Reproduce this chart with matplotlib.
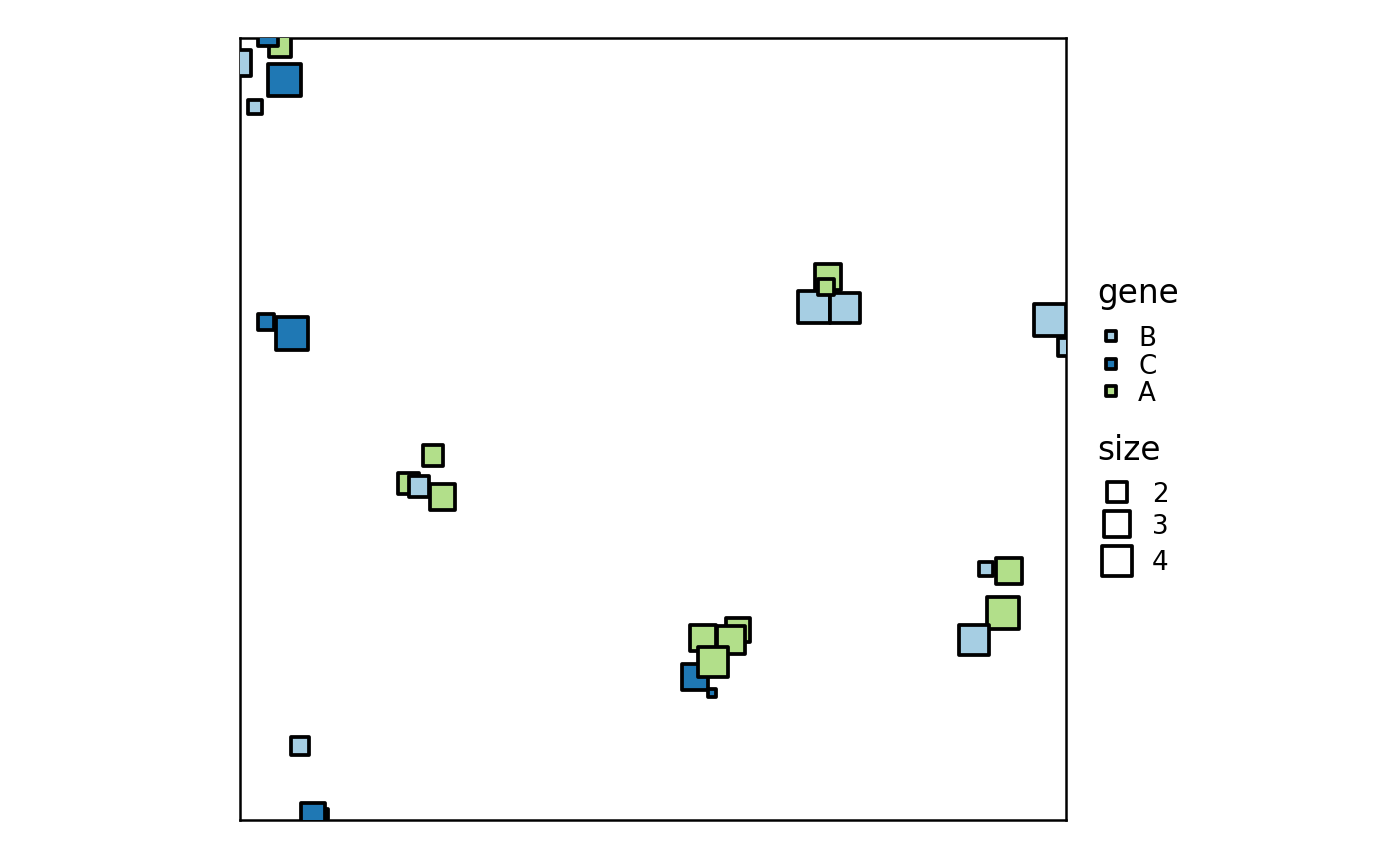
import numpy as np
import matplotlib
matplotlib.use("Agg")
import matplotlib.pyplot as plt

# ---- data ----
gene = ["A", "C", "C", "B", "B",
        "C", "C",
        "A", "B", "A", "A",
        "C", "C", "B",
        "A", "A", "A", "C", "A", "C",
        "A", "B", "B", "A",
        "B", "B", "B", "A", "A", "B"]
x = [4.84, 3.39, 5.39, -0.24, 1.82,
     3.15, 6.30,
     20.40, 21.67, 23.37, 24.52,
     10.00, 8.84, 7.26,
     60.29, 56.05, 59.44, 55.08, 57.26, 57.14,
     71.19, 69.49, 73.24, 70.94,
     98.06, 100.06, 90.31, 93.10, 92.37, 88.86]
y = [98.98, 100.26, 94.63, 96.80, 91.18,
     63.68, 62.21,
     43.03, 42.65, 46.61, 41.30,
     0.77, 0.70, 9.46,
     24.30, 23.27, 23.02, 18.29, 20.20, 16.24,
     69.44, 65.60, 65.47, 68.16,
     63.94, 60.49, 32.10, 31.84, 26.47, 23.02]
size = [2.35, 2.00, 4.48, 3.12, 1.13,
        1.39, 4.48,
        2.17, 2.00, 2.00, 2.91,
        0.69, 2.53, 1.68,
        2.53, 2.91, 3.33, 2.91, 4.00, 0.43,
        3.12, 4.48, 4.00, 1.39,
        4.24, 1.53, 1.13, 2.91, 4.24, 4.00]

gene_levels = ["B", "C", "A"]
gene_colors = {"B": "#A6CEE3", "C": "#1F78B4", "A": "#B2DF8A"}
size_breaks = [2, 3, 4]

DPI = 200
EDGE_LW = 1.35


def side_px(v):
    return 17.07 * np.sqrt(np.asarray(v, dtype=float)) - 3.64


def marker_area(v):
    return (side_px(v) * 72.0 / DPI) ** 2


fig = plt.figure(figsize=(7, 4.33), dpi=DPI)
W, H = 1400, 866
ax = fig.add_axes([240 / W, 46 / H, 826 / W, 782 / H])
ax.scatter(x, y, s=marker_area(size), marker="s",
           c=[gene_colors[g] for g in gene],
           edgecolors="black", linewidths=EDGE_LW, zorder=3)
ax.set_xlim(0, 100)
ax.set_ylim(0, 100)
ax.set_xticks([])
ax.set_yticks([])
for sp in ax.spines.values():
    sp.set_linewidth(0.9)

# ---- legends (drawn in pixel space) ----
lg = fig.add_axes([0, 0, 1, 1], zorder=-1)
lg.set_xlim(0, W)
lg.set_ylim(H, 0)
lg.axis("off")

TITLE_FS = 11.8
LABEL_FS = 9.4

lg.text(1097, 303, "gene", fontsize=TITLE_FS, va="baseline", ha="left")
gene_key_y = [336, 364, 391]
key_px = 10.5
for g, ky in zip(gene_levels, gene_key_y):
    lg.scatter([1110.5], [ky], s=(key_px * 72.0 / DPI) ** 2, marker="s",
               c=gene_colors[g], edgecolors="black", linewidths=EDGE_LW,
               clip_on=False)
    lg.text(1138, ky + 10, g, fontsize=LABEL_FS, va="baseline", ha="left")

lg.text(1097, 460, "size", fontsize=TITLE_FS, va="baseline", ha="left")
size_key_y = [492, 524, 561]
for b, ky in zip(size_breaks, size_key_y):
    lg.scatter([1117], [ky], s=marker_area(b), marker="s",
               c="white", edgecolors="black", linewidths=EDGE_LW,
               clip_on=False)
    lg.text(1152, ky + 9.5, str(b), fontsize=LABEL_FS, va="baseline", ha="left")

fig.savefig("out.png", dpi=DPI)
